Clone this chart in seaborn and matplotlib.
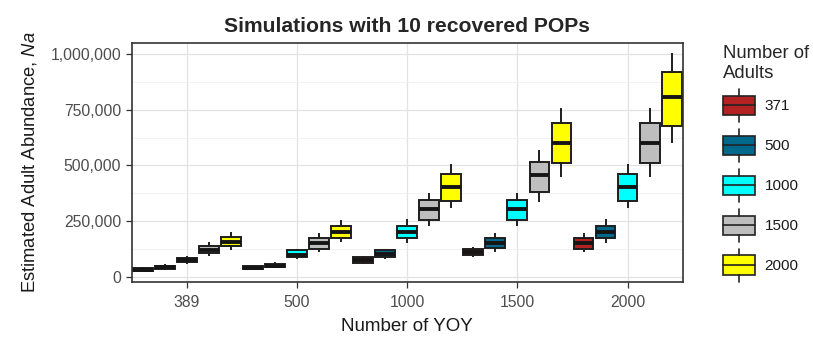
import numpy as np
import pandas as pd
import matplotlib
matplotlib.use("Agg")
import matplotlib.pyplot as plt
import seaborn as sns
from matplotlib.legend_handler import HandlerBase
from matplotlib.patches import Rectangle, Patch
from matplotlib.lines import Line2D
from matplotlib.ticker import FuncFormatter, MultipleLocator

# ---- data (values in thousands of adults) ----
yoy = ["389", "500", "1000", "1500", "2000"]
adults = ["371", "500", "1000", "1500", "2000"]
colors = ["#B22222", "#00688B", "#00FFFF", "#BEBEBE", "#FFFF00"]

# per adults level, one value per YOY level (thousands)
lo_371 = [22, 30, 57, 88, 112]
q1_371 = [27, 35, 62, 96, 124]
md_371 = [32, 40, 75, 110, 150]
q3_371 = [38, 46, 88, 126, 172]
hi_371 = [43, 52, 95, 135, 195]

lo_500 = [30, 38, 80, 112, 150]
q1_500 = [36, 42, 88, 127, 174]
md_500 = [42, 48, 100, 150, 202]
q3_500 = [48, 56, 118, 174, 230]
hi_500 = [55, 64, 122, 195, 258]

lo_1000 = [58, 80, 150, 228, 307]
q1_1000 = [66, 87, 174, 254, 342]
md_1000 = [75, 98, 202, 304, 402]
q3_1000 = [86, 118, 230, 344, 460]
hi_1000 = [95, 126, 258, 378, 505]

lo_1500 = [94, 112, 228, 337, 450]
q1_1500 = [106, 126, 254, 382, 510]
md_1500 = [120, 150, 304, 457, 600]
q3_1500 = [136, 172, 344, 515, 690]
hi_1500 = [155, 195, 378, 570, 757]

lo_2000 = [120, 155, 307, 450, 600]
q1_2000 = [136, 174, 342, 510, 676]
md_2000 = [157, 202, 402, 600, 807]
q3_2000 = [180, 230, 460, 690, 920]
hi_2000 = [202, 255, 505, 757, 1004]

stats = {
    "371": (lo_371, q1_371, md_371, q3_371, hi_371),
    "500": (lo_500, q1_500, md_500, q3_500, hi_500),
    "1000": (lo_1000, q1_1000, md_1000, q3_1000, hi_1000),
    "1500": (lo_1500, q1_1500, md_1500, q3_1500, hi_1500),
    "2000": (lo_2000, q1_2000, md_2000, q3_2000, hi_2000),
}

rows = []
for a in adults:
    cols = stats[a]
    for i, y in enumerate(yoy):
        for arr in cols:
            rows.append({"YOY": y, "Adults": a, "Na": arr[i] * 1000})
df = pd.DataFrame(rows)

# ---- style ----
sns.set_theme(style="white")
plt.rcParams["font.family"] = ["Liberation Sans", "DejaVu Sans"]
plt.rcParams["mathtext.fontset"] = "custom"
plt.rcParams["mathtext.rm"] = "Liberation Sans"
plt.rcParams["mathtext.it"] = "Liberation Sans:italic"

fig = plt.figure(figsize=(8.13, 3.42), dpi=100)
ax = fig.add_axes([0.162, 0.1763, 0.6777, 0.6971])

sns.boxplot(
    data=df, x="YOY", y="Na", hue="Adults",
    order=yoy, hue_order=adults, palette=colors,
    width=1.0, gap=0.1, saturation=1, whis=1.5,
    linewidth=1.4, linecolor="#1e1e1e", showcaps=False, fliersize=0,
    medianprops=dict(linewidth=2.8, color="#151515"),
    legend=False, ax=ax,
)

ax.set_xlim(-0.5, 4.5)
ax.set_ylim(-22500, 1049000)
ax.yaxis.set_major_locator(MultipleLocator(250000))
ax.yaxis.set_minor_locator(MultipleLocator(125000))
ax.yaxis.set_major_formatter(FuncFormatter(lambda v, p: f"{int(v):,}"))
ax.set_axisbelow(True)
ax.grid(True, which="major", color="#E3E3E3", linewidth=0.9)
ax.grid(True, which="minor", axis="y", color="#F0F0F0", linewidth=0.6)
for s in ax.spines.values():
    s.set_color("#333333")
    s.set_linewidth(1.2)
ax.tick_params(axis="both", which="major", length=4.5, width=0.9, color="#333333",
               labelsize=11.3, labelcolor="#4D4D4D", pad=3, left=True, bottom=True)
ax.tick_params(axis="x", which="major", pad=5)
ax.tick_params(axis="y", which="minor", length=0)

ax.set_xlabel("Number of YOY", fontsize=13.5, color="#1a1a1a", labelpad=6)
ax.set_ylabel("Estimated Adult Abundance, $\\it{Na}$", fontsize=13.2, color="#1a1a1a", labelpad=8)
ax.set_title("Simulations with 10 recovered POPs", fontsize=15.2, fontweight="bold", pad=8)


class BoxHandler(HandlerBase):
    def create_artists(self, legend, orig_handle, xdescent, ydescent, width, height, fontsize, trans):
        fc = orig_handle.get_facecolor()
        x0, y0 = -xdescent, -ydescent
        cx = x0 + width / 2
        b0, b1 = y0 + 0.2 * height, y0 + 0.8 * height
        rect = Rectangle((x0, b0), width, b1 - b0, facecolor=fc, edgecolor="#222222",
                         linewidth=1.2, transform=trans)
        w1 = Line2D([cx, cx], [y0, b0], color="#222222", linewidth=1.2, transform=trans)
        w2 = Line2D([cx, cx], [b1, y0 + height], color="#222222", linewidth=1.2, transform=trans)
        med = Line2D([x0, x0 + width], [(b0 + b1) / 2] * 2, color="#222222", linewidth=1.2, transform=trans)
        return [rect, w1, w2, med]


handles = [Patch(facecolor=c) for c in colors]
leg = fig.legend(handles, adults, handler_map={Patch: BoxHandler()},
                 title="Number of\nAdults", loc="upper left",
                 bbox_to_anchor=(0.8895, 0.867), frameon=False,
                 fontsize=11, title_fontsize=13.3, handlelength=2.1, handleheight=2.94,
                 labelspacing=0.46, handletextpad=0.6, borderaxespad=0, borderpad=0)
leg._legend_box.align = "left"
leg._legend_box.sep = 5
for t in leg.get_texts():
    t.set_color("#1a1a1a")

fig.savefig("out.png", dpi=100)
